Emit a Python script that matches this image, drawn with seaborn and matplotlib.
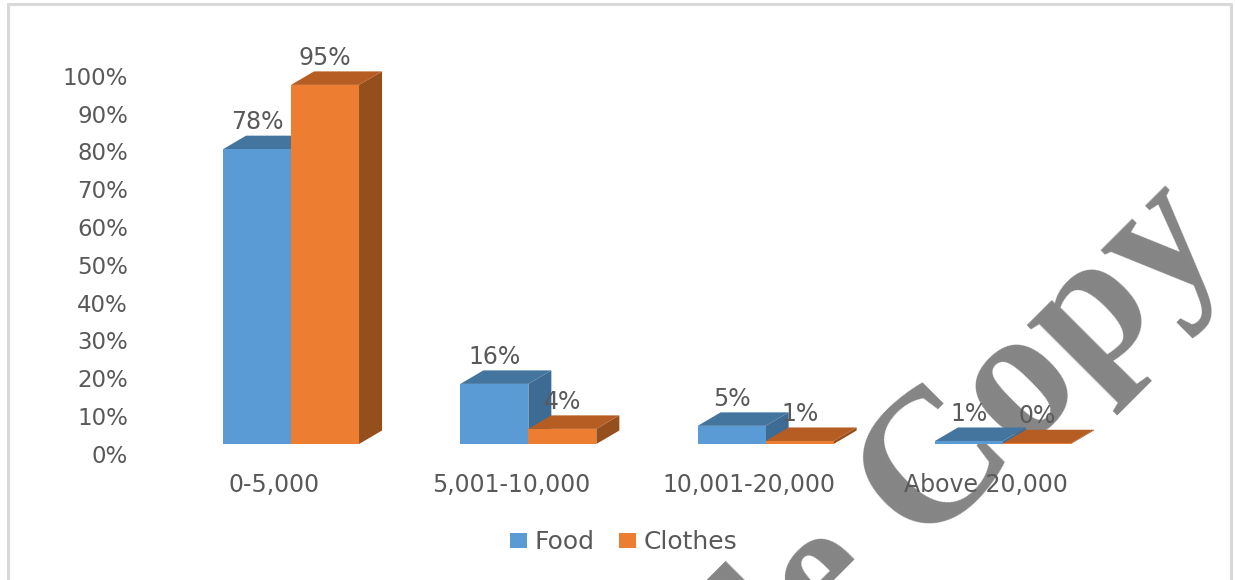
import matplotlib
matplotlib.use("Agg")
import matplotlib.pyplot as plt
from matplotlib.lines import Line2D
from matplotlib.patches import Polygon, Patch
from matplotlib.transforms import ScaledTranslation
import pandas as pd
import seaborn as sns

categories = ["0-5,000", "5,001-10,000", "10,001-20,000", "Above 20,000"]
food = [78, 16, 5, 1]
clothes = [95, 4, 1, 0]
# bar heights as drawn by the original 3-D chart
food_drawn = [78, 15.9, 4.8, 0.8]
clothes_drawn = [95, 4, 0.8, 0.2]
series_names = ["Food", "Clothes"]
y_ticks = list(range(0, 101, 10))

W, H = 1235, 580
TEXT = "#595959"
FRONT = {"Food": "#5B9BD5", "Clothes": "#ED7D31"}
TOP = {"Food": "#44759F", "Clothes": "#B55D22"}
SIDE = {"Food": "#3E6B93", "Clothes": "#954F1C"}

sns.set_theme(style="white")
plt.rcParams["font.family"] = ["DejaVu Sans"]

df = pd.DataFrame({
    "band": categories * 2,
    "share": food_drawn + clothes_drawn,
    "series": ["Food"] * 4 + ["Clothes"] * 4,
})

fig = plt.figure(figsize=(W / 100, H / 100), dpi=100, facecolor="white")
ax = fig.add_axes([172.4 / W, (H - 444) / H, 949.2 / W, 378 / H])
sns.barplot(data=df, x="band", y="share", hue="series", hue_order=series_names,
            palette=FRONT, width=0.573, gap=0, saturation=1, legend=False,
            errorbar=None, ax=ax, zorder=3)
ax.set_xlim(-0.5, 3.5)
ax.set_ylim(0, 100)
ax.set_xlabel("")
ax.set_ylabel("")
for s in ax.spines.values():
    s.set_visible(False)
ax.patch.set_alpha(0)

# depth of the 3-D extrusion, expressed in data units
ddx = 23 / (949.2 / 4)
ddy = 13.5 / 3.78

labels_vals = {"Food": food, "Clothes": clothes}
for i, name in enumerate(series_names):
    cont = ax.containers[i]
    z = 3 + i
    for j, bar in enumerate(cont):
        x0, x1, h = bar.get_x(), bar.get_x() + bar.get_width(), bar.get_height()
        bar.set_zorder(z + 0.2)
        bar.set_linewidth(0)
        ax.add_patch(Polygon([(x1, 0), (x1 + ddx, ddy), (x1 + ddx, h + ddy), (x1, h)],
                             closed=True, fc=SIDE[name], ec="none", zorder=z, clip_on=False))
        ax.add_patch(Polygon([(x0, h), (x0 + ddx, h + ddy), (x1 + ddx, h + ddy), (x1, h)],
                             closed=True, fc=TOP[name], ec="none", zorder=z + 0.1, clip_on=False))
        ax.annotate(f"{labels_vals[name][j]}%", xy=((x0 + x1) / 2, h), xytext=(0, 19.5),
                    textcoords="offset points", ha="center", va="center",
                    fontsize=17, color=TEXT, zorder=7)

ax.set_yticks(y_ticks)
ax.set_yticklabels([f"{t}%" for t in y_ticks], fontsize=16.5, color=TEXT)
ax.tick_params(axis="y", length=0, pad=0)
shift_y = ScaledTranslation(-32 / 72, -7 / 72, fig.dpi_scale_trans)
for lab in ax.get_yticklabels():
    lab.set_transform(lab.get_transform() + shift_y)

ax.set_xticks(range(4))
ax.set_xticklabels(categories, fontsize=17, color=TEXT)
ax.tick_params(axis="x", length=0, pad=21)
shift_x = ScaledTranslation(-12.2 / 72, 0, fig.dpi_scale_trans)
for lab in ax.get_xticklabels():
    lab.set_transform(lab.get_transform() + shift_x)

handles = [Patch(fc=FRONT[n], ec="none", label=n) for n in series_names]
fig.legend(handles=handles, loc="center", bbox_to_anchor=(623.5 / W, (H - 542) / H), ncol=2,
           frameon=False, fontsize=18, labelcolor=TEXT, handlelength=0.68, handleheight=0.55,
           handletextpad=0.3, columnspacing=1.0)

# frame of the pasted picture
for xs, ys in [((8, 8), (H, 4)), ((8, 1231), (4, 4)), ((1231, 1231), (4, H))]:
    fig.add_artist(Line2D([x / W for x in xs], [1 - y / H for y in ys],
                          color="#D9D9D9", lw=2.2, transform=fig.transFigure))

# diagonal watermark, lying behind the chart's marks and labels
fig.text(1229 / W, 1 - 246 / H, "Sample Copy", rotation=45, rotation_mode="anchor",
         ha="right", va="baseline", fontsize=137, fontfamily="Liberation Serif",
         fontweight="bold", color="#858585", zorder=-1)

fig.savefig("out.png", dpi=100, facecolor="white")
